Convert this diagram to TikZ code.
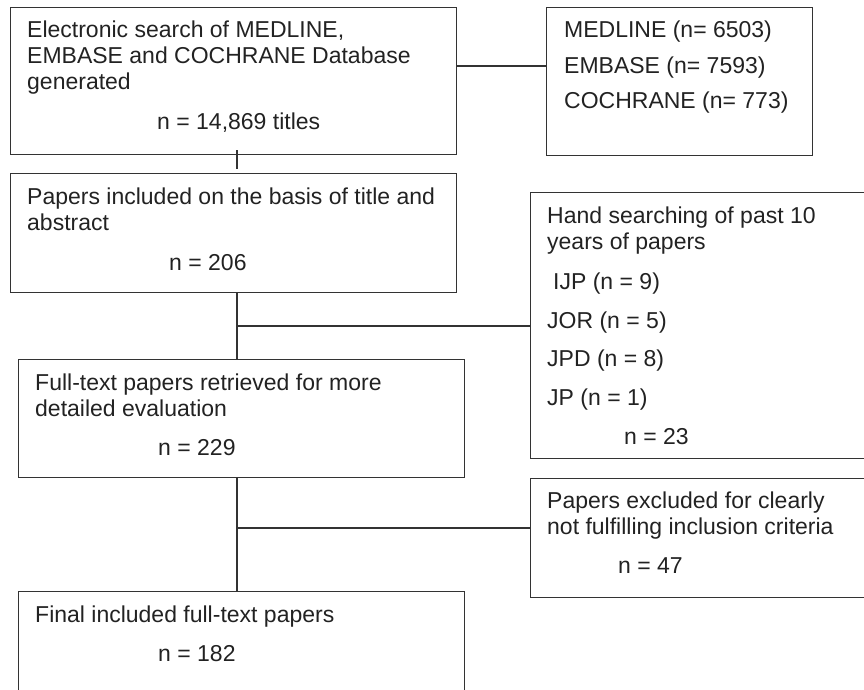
\documentclass[tikz,border=0pt]{standalone}
\usepackage{fontspec}
\setmainfont{Liberation Sans}
\definecolor{linec}{HTML}{333333}
\definecolor{textc}{HTML}{222222}
\tikzset{
  box/.style={draw=linec, line width=1.2pt, rectangle, anchor=north west, inner sep=0pt},
  txt/.style={anchor=base west, inner sep=0pt, text=textc, font=\fontsize{23}{26}\selectfont},
  conn/.style={draw=linec, line width=1.2pt}
}
\begin{document}
\begin{tikzpicture}[x=1pt,y=-1pt]
\useasboundingbox (0,0) rectangle (864,690);
\clip (0,0) rectangle (864,690);
% boxes
\node[box, minimum width=446pt, minimum height=147pt] (b1) at (10,7) {};
\node[box, minimum width=266pt, minimum height=148pt] (b2) at (546,7) {};
\node[box, minimum width=446pt, minimum height=119pt] (b3) at (10,173) {};
\node[box, minimum width=350pt, minimum height=266pt] (b4) at (530,192) {};
\node[box, minimum width=446pt, minimum height=118pt] (b5) at (18,359) {};
\node[box, minimum width=350pt, minimum height=119pt] (b6) at (530,478) {};
\node[box, minimum width=446pt, minimum height=130pt] (b7) at (18,591) {};
% texts
\node[txt] (t1a) at (27,38) {Electronic search of MEDLINE,};
\node[txt] (t1b) at (27,64) {EMBASE and COCHRANE Database};
\node[txt] (t1c) at (27,90) {generated};
\node[txt] (t1d) at (157,129) {n = 14,869 titles};
\node[txt] (t2a) at (564,38) {MEDLINE (n= 6503)};
\node[txt] (t2b) at (564,74) {EMBASE (n= 7593)};
\node[txt] (t2c) at (564,109) {COCHRANE (n= 773)};
\node[txt] (t3a) at (27,204) {Papers included on the basis of title and};
\node[txt] (t3b) at (27,230) {abstract};
\node[txt] (t3c) at (169,270) {n = 206};
\node[txt] (t4a) at (547,223) {Hand searching of past 10};
\node[txt] (t4b) at (547,249) {years of papers};
\node[txt] (t4c) at (553,289) {IJP (n = 9)};
\node[txt] (t4d) at (547,328) {JOR (n = 5)};
\node[txt] (t4e) at (547,366) {JPD (n = 8)};
\node[txt] (t4f) at (547,405) {JP (n = 1)};
\node[txt] (t4g) at (624,444) {n = 23};
\node[txt] (t5a) at (35,390) {Full-text papers retrieved for more};
\node[txt] (t5b) at (35,416) {detailed evaluation};
\node[txt] (t5c) at (158,455) {n = 229};
\node[txt] (t6a) at (547,508) {Papers excluded for clearly};
\node[txt] (t6b) at (547,534) {not fulfilling inclusion criteria};
\node[txt] (t6c) at (618,573) {n = 47};
\node[txt] (t7a) at (35,622) {Final included full-text papers};
\node[txt] (t7b) at (158,661) {n = 182};
% connectors
\coordinate (c12) at (0,66);
\coordinate (vx) at (237,0);
\coordinate (j1) at (237,326);
\coordinate (j2) at (237,528);
\draw[conn] (b1.east |- c12) -- (b2.west |- c12);
\draw[conn, shorten <=-5pt, shorten >=4pt] (b1.south -| vx) -- (b3.north -| vx);
\draw[conn] (b3.south -| vx) -- (b5.north -| vx);
\draw[conn] (j1) -- (b4.west |- j1);
\draw[conn] (b5.south -| vx) -- (b7.north -| vx);
\draw[conn] (j2) -- (b6.west |- j2);
\end{tikzpicture}
\end{document}
